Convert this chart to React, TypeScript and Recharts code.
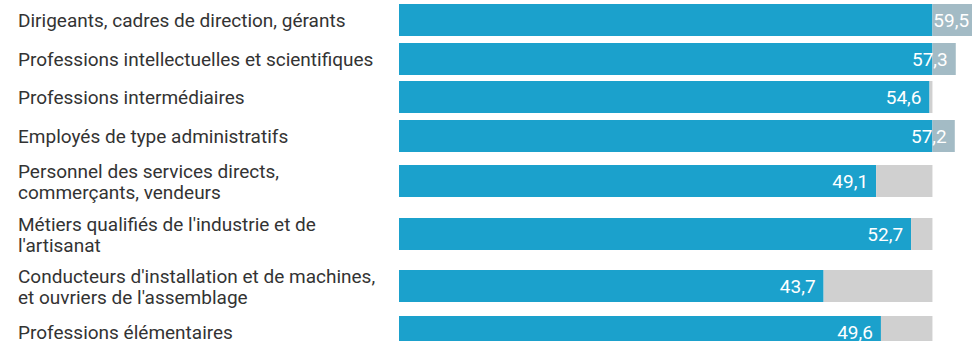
import { BarChart, Bar, XAxis, YAxis, LabelList } from 'recharts'

// occupations (two-line labels split with \n)
const categories = [
  'Dirigeants, cadres de direction, gérants',
  'Professions intellectuelles et scientifiques',
  'Professions intermédiaires',
  'Employés de type administratifs',
  'Personnel des services directs,\ncommerçants, vendeurs',
  "Métiers qualifiés de l'industrie et de\nl'artisanat",
  "Conducteurs d'installation et de machines,\net ouvriers de l'assemblage",
  'Professions élémentaires',
]

const values = [59.5, 57.3, 54.6, 57.2, 49.1, 52.7, 43.7, 49.6]

// overall average, where the grey track ends
const reference = 54.9

const BLUE = '#1ba1cc'
const OVER = '#a3bbc5'
const TRACK = '#d0d0d0'
const FONT = 'Roboto, "Noto Sans", sans-serif'

const rows = categories.map((name, i) => {
  const v = values[i]
  return {
    name,
    value: v,
    base: Math.min(v, reference),
    over: Math.max(v - reference, 0),
    rest: Math.max(reference - v, 0),
  }
})

type Row = (typeof rows)[number]

const fmt = (v: number) => v.toFixed(1).replace('.', ',')

const NameTick = (props: any) => {
  const { y, payload } = props
  const lines = String(payload.value).split('\n')
  const lh = 21
  const start = y - ((lines.length - 1) * lh) / 2
  return (
    <text x={18} y={start} fill="#333" fontSize={19} fontFamily={FONT} dominantBaseline="central">
      {lines.map((l, i) => (
        <tspan key={i} x={18} y={start + i * lh}>
          {l}
        </tspan>
      ))}
    </text>
  )
}

// label sits at the end of the full value, measured with the base bar's own scale
const ValueLabel = (props: any) => {
  const { x, y, width, height, row } = props
  const end = x + (width * row.value) / row.base
  return (
    <text
      x={end - 8}
      y={y + height / 2}
      fill="#fff"
      fontSize={19}
      fontFamily={FONT}
      textAnchor="end"
      dominantBaseline="central"
    >
      {fmt(row.value)}
    </text>
  )
}

function RowChart({ row }: { row: Row }) {
  const twoLines = row.name.includes('\n')
  return (
    <BarChart
      width={982}
      height={twoLines ? 52.5 : 38.5}
      data={[row]}
      layout="vertical"
      margin={{ top: 0, right: 0, bottom: 0, left: 0 }}
      barSize={32}
    >
      <XAxis type="number" domain={[0, 60]} hide />
      <YAxis type="category" dataKey="name" width={399} axisLine={false} tickLine={false} tick={<NameTick />} />
      <Bar dataKey="base" stackId="a" fill={BLUE} isAnimationActive={false}>
        <LabelList dataKey="value" content={(p: any) => <ValueLabel {...p} row={row} />} />
      </Bar>
      <Bar dataKey="over" stackId="a" fill={OVER} isAnimationActive={false} />
      <Bar dataKey="rest" stackId="a" fill={TRACK} isAnimationActive={false} />
    </BarChart>
  )
}

export default function App() {
  return (
    <div
      style={{
        position: 'absolute',
        left: 0,
        top: 0,
        width: 972,
        height: 341,
        overflow: 'hidden',
        background: '#fff',
        paddingTop: 1,
      }}
    >
      {rows.map((r) => (
        <RowChart key={r.name} row={r} />
      ))}
    </div>
  )
}
